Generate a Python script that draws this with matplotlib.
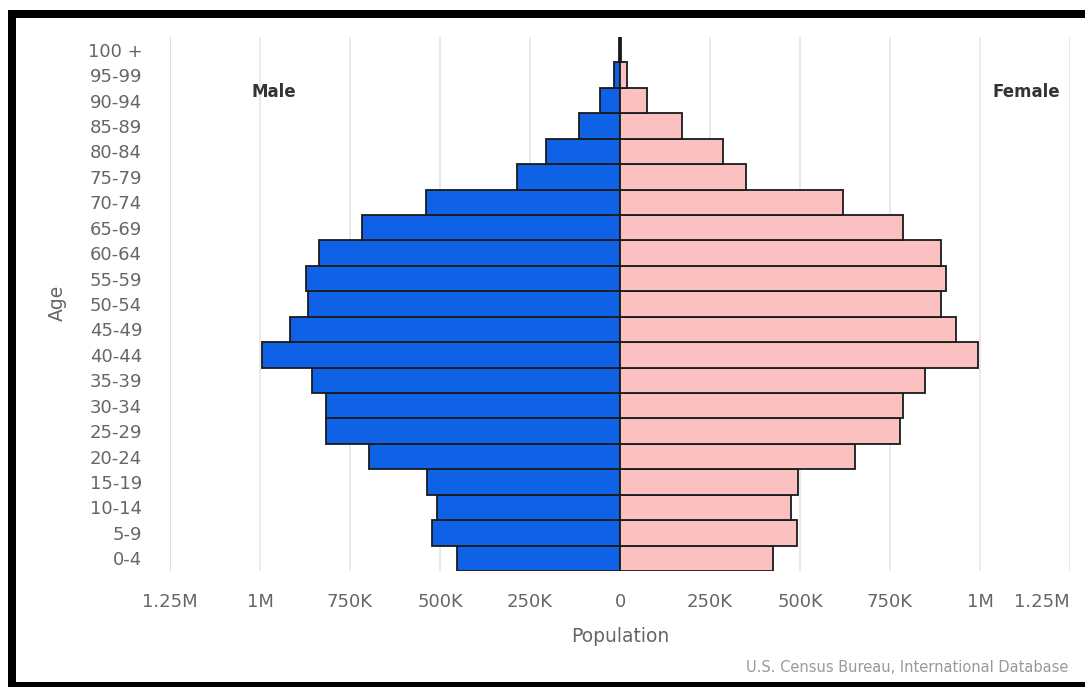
import matplotlib.pyplot as plt
import numpy as np
from matplotlib.patches import Rectangle
from matplotlib.ticker import FixedLocator

# Age groups, bottom to top
ages = ["0-4", "5-9", "10-14", "15-19", "20-24", "25-29", "30-34", "35-39",
        "40-44", "45-49", "50-54", "55-59", "60-64", "65-69", "70-74",
        "75-79", "80-84", "85-89", "90-94", "95-99", "100 +"]

male = [453000, 522000, 508000, 536000, 697000, 817000, 817000, 856000,
        995000, 917000, 867000, 872000, 835000, 717000, 539000,
        286000, 206000, 114000, 56000, 17000, 1500]
female = [425000, 492000, 475000, 494000, 653000, 778000, 786000, 847000,
          994000, 933000, 892000, 906000, 892000, 786000, 619000,
          350000, 286000, 172000, 75000, 20000, 2500]

tick_vals = [-1250000, -1000000, -750000, -500000, -250000, 0,
             250000, 500000, 750000, 1000000, 1250000]
tick_text = ["1.25M", "1M", "750K", "500K", "250K", "0",
             "250K", "500K", "750K", "1M", "1.25M"]

W, H = 1085, 687
fig = plt.figure(figsize=(W / 100, H / 100), dpi=100)
fig.patch.set_facecolor("white")

ax = fig.add_axes([170 / W, 1 - 571 / H, 900 / W, 534 / H])
y = np.arange(len(ages))

ax.barh(y, -np.array(male), height=1.0, color="#0F62E6",
        edgecolor="#1a1a1a", linewidth=1.3, zorder=3)
ax.barh(y, female, height=1.0, color="#FBC0C0",
        edgecolor="#1a1a1a", linewidth=1.3, zorder=3)

ax.set_xlim(-1250000, 1250000)
ax.set_ylim(-0.5, len(ages) - 0.5)
for s in ax.spines.values():
    s.set_visible(False)

ax.xaxis.set_major_locator(FixedLocator(tick_vals))
ax.set_xticklabels(tick_text)
ax.set_yticks(y)
ax.set_yticklabels(ages)
ax.tick_params(axis="both", length=0, labelsize=13, labelcolor="#666666")
ax.tick_params(axis="x", pad=16)
ax.tick_params(axis="y", pad=20)
ax.get_xticklabels()[-1].set_horizontalalignment("right")
ax.get_xticklabels()[-1].set_x(1250000)

for v in tick_vals:
    c = "#ccd6eb" if v == -1250000 else "#e6e6e6"
    ax.axvline(v, color=c, linewidth=1.2, zorder=1)

ax.text(-962000, 18.35, "Male", fontsize=12, fontweight="bold",
        color="#333333", ha="center", va="center")
ax.text(1130000, 18.35, "Female", fontsize=12, fontweight="bold",
        color="#333333", ha="center", va="center")

fig.text(620 / W, 1 - 637 / H, "Population", fontsize=13.5,
         color="#666666", ha="center", va="center")
fig.text(57 / W, 1 - 303 / H, "Age", fontsize=13.5, color="#666666",
         ha="center", va="center", rotation=90)
fig.text(1068 / W, 1 - 668 / H, "U.S. Census Bureau, International Database",
         fontsize=10.5, color="#999999", ha="right", va="center")

# thick black frame from the screenshot
for (x0, y0, w, h) in [(8, 10, W - 8, 8), (8, 10, 8, H - 10), (8, 682, W - 8, 5)]:
    fig.add_artist(Rectangle((x0 / W, 1 - (y0 + h) / H), w / W, h / H,
                             transform=fig.transFigure, color="black",
                             linewidth=0, zorder=10))

fig.savefig("out.png", dpi=100)
plt.close()
